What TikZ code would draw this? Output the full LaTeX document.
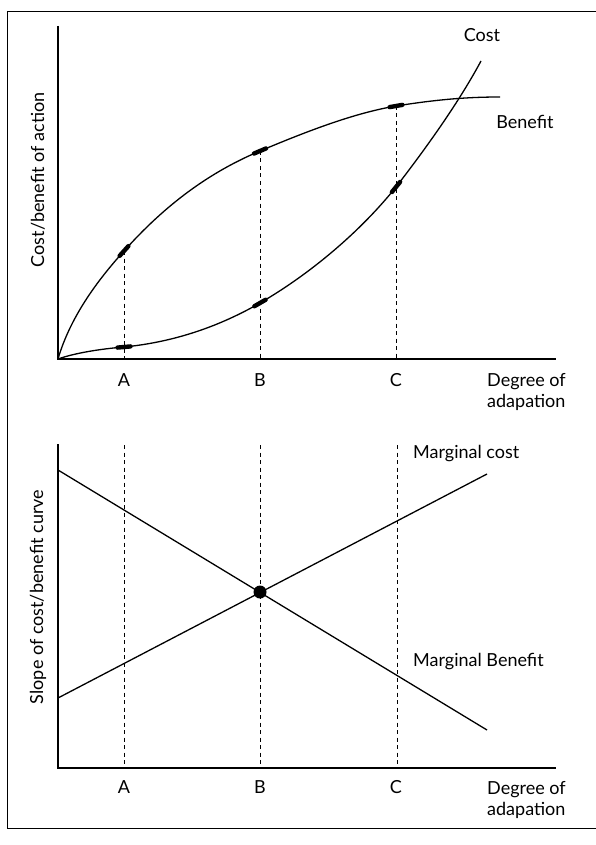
\documentclass[tikz,border=0pt]{standalone}
\usepackage{fontspec}
\setmainfont{Lato}
\usetikzlibrary{calc}
\begin{document}
\begin{tikzpicture}[x=1pt,y=-1pt,
  axis/.style={line width=1.5pt},
  curve/.style={line width=1.3pt},
  guide/.style={line width=0.9pt, dash pattern=on 4pt off 3.5pt},
  tickmark/.style={line width=4.4pt, line cap=round},
  lbl/.style={font=\fontsize{18}{21}\selectfont, inner sep=0pt},
  frameline/.style={line width=1pt}]
\useasboundingbox (0,0) rectangle (596,845);

% outer frame
\coordinate (ftl) at (7,12);
\coordinate (ftr) at (596,12);
\coordinate (fbl) at (7,828);
\coordinate (fbr) at (596,828);
\draw[frameline] (ftr) -- (ftl) -- (fbl) -- (fbr);

% ---------- upper chart: cost and benefit ----------
\coordinate (o1) at (58,359);
\coordinate (y1) at (58,26);
\coordinate (x1) at (556,359);
\draw[axis] (y1) -- (o1) -- (x1);

\coordinate (bA) at (124,251);
\coordinate (bB) at (260,151);
\coordinate (bC) at (396,106);
\coordinate (bE) at (500,97);
\coordinate (cA) at (124,347);
\coordinate (cB) at (260,303);
\coordinate (cC) at (396,187);
\coordinate (cE) at (481,61);

% benefit curve
\draw[curve] (o1) .. controls (70,318) and (96,282) .. (bA)
  .. controls (166,204) and (210,172) .. (bB)
  .. controls (310,130) and (355,113) .. (bC)
  .. controls (440,99) and (470,97) .. (bE);
% cost curve
\draw[curve] (o1) .. controls (75,353) and (100,349) .. (cA)
  .. controls (175,342) and (220,326) .. (cB)
  .. controls (310,274) and (360,232) .. (cC)
  .. controls (430,143) and (460,100) .. (cE);

% projections onto the horizontal axis
\coordinate (tA) at (124,359);
\coordinate (tB) at (260,359);
\coordinate (tC) at (396,359);
\draw[guide] (bA) -- (tA);
\draw[guide] (bB) -- (tB);
\draw[guide] (bC) -- (tC);

% highlighted points on the curves
\draw[tickmark] ([shift={(-48:6.5)}]bA) -- ([shift={(132:6.5)}]bA);
\draw[tickmark] ([shift={(-23:6.5)}]bB) -- ([shift={(157:6.5)}]bB);
\draw[tickmark] ([shift={(-10:6.5)}]bC) -- ([shift={(170:6.5)}]bC);
\draw[tickmark] ([shift={(-5:6.5)}]cA) -- ([shift={(175:6.5)}]cA);
\draw[tickmark] ([shift={(-30:6.5)}]cB) -- ([shift={(150:6.5)}]cB);
\draw[tickmark] ([shift={(-51:6.5)}]cC) -- ([shift={(129:6.5)}]cC);

\node[lbl] (lA1) at (124,380) {A};
\node[lbl] (lB1) at (260,380) {B};
\node[lbl] (lC1) at (396,380) {C};
\node[lbl, anchor=west, align=left] (lx1) at (487,392) {Degree of\\adapation};
\node[lbl] (lcost) at (482,35) {Cost};
\node[lbl] (lben) at (525,122) {Benefit};
\node[lbl, rotate=90] (ly1) at (38,180) {Cost/benefit of action};

% ---------- lower chart: marginal cost and benefit ----------
\coordinate (o2) at (58,768);
\coordinate (y2) at (58,444);
\coordinate (x2) at (556,768);
\draw[axis] (y2) -- (o2) -- (x2);

\coordinate (gA) at (124,445);
\coordinate (gB) at (260,445);
\coordinate (gC) at (397,445);
\coordinate (hA) at (124,768);
\coordinate (hB) at (260,768);
\coordinate (hC) at (397,768);
\draw[guide] (gA) -- (hA);
\draw[guide] (gB) -- (hB);
\draw[guide] (gC) -- (hC);

\coordinate (mc0) at (58,698);
\coordinate (mc1) at (487,474);
\coordinate (mb0) at (58,470);
\coordinate (mb1) at (487,730);
\draw[curve] (mc0) -- (mc1);
\draw[curve] (mb0) -- (mb1);
\fill (260,592) circle (6.5pt);

\node[lbl] (lA2) at (124,787) {A};
\node[lbl] (lB2) at (260,787) {B};
\node[lbl] (lC2) at (396,787) {C};
\node[lbl, anchor=west, align=left] (lx2) at (487,800) {Degree of\\adapation};
\node[lbl, anchor=west] (lmc) at (413,454) {Marginal cost};
\node[lbl, anchor=west] (lmb) at (413,662) {Marginal Benefit};
\node[lbl, rotate=90] (ly2) at (38,597) {Slope of cost/benefit curve};
\end{tikzpicture}
\end{document}
